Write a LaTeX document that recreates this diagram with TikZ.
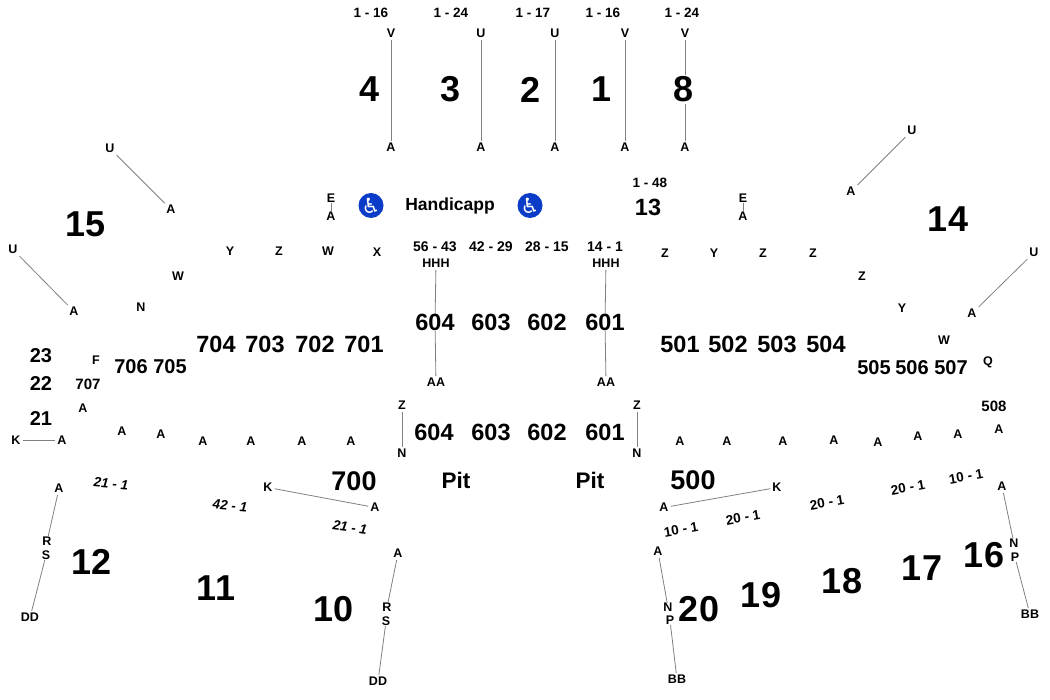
\documentclass[tikz,border=0pt]{standalone}
\usepackage{fontspec}
\setmainfont{Liberation Sans}
\newfontfamily\iconfont{DejaVu Sans}
\tikzset{
	bigsec/.style={font=\fontsize{36}{36}\selectfont\bfseries, inner sep=0pt},
	midsec/.style={font=\fontsize{23.5}{24}\selectfont\bfseries, inner sep=0pt},
	lowsec/.style={font=\fontsize{20}{20}\selectfont\bfseries, inner sep=0pt},
	tinysec/.style={font=\fontsize{15}{15}\selectfont\bfseries, inner sep=0pt},
	pitsec/.style={font=\fontsize{22.5}{23}\selectfont\bfseries, inner sep=0pt},
	seatrow/.style={font=\fontsize{12.5}{13}\selectfont\bfseries, inner sep=2pt},
	seatnum/.style={font=\fontsize{13.5}{14}\selectfont\bfseries, inner sep=0pt},
	seatnumit/.style={font=\fontsize{13.5}{14}\selectfont\bfseries\itshape, inner sep=0pt},
	rowline/.style={draw=black!50, line width=0.8pt},
	wheel/.style={circle, fill=wheelblue, text=white, minimum size=25pt, inner sep=0pt, font=\iconfont\fontsize{21}{21}\selectfont}
}
\definecolor{wheelblue}{RGB}{10,60,200}
\begin{document}
\begin{tikzpicture}[x=1pt,y=-1pt]
	\useasboundingbox (-1,-0.5) rectangle (1049,699.5);

	% top block
	\node[seatnum] (ra) at (370,12) {1 - 16};
	\node[seatnum] (rb) at (450,12) {1 - 24};
	\node[seatnum] (rc) at (532,12) {1 - 17};
	\node[seatnum] (rd) at (602,12) {1 - 16};
	\node[seatnum] (re) at (681,12) {1 - 24};
	\node[seatrow] (ta) at (390,33) {V};
	\node[seatrow] (tb) at (480,33) {U};
	\node[seatrow] (tc) at (554,33) {U};
	\node[seatrow] (td) at (624,33) {V};
	\node[seatrow] (te) at (684,33) {V};
	\node[seatrow] (ba) at (390,147) {A};
	\node[seatrow] (bb) at (480,147) {A};
	\node[seatrow] (bc) at (554,147) {A};
	\node[seatrow] (bd) at (624,147) {A};
	\node[seatrow] (be) at (684,147) {A};
	\foreach \a/\b in {ta/ba,tb/bb,tc/bc,td/bd}
		\draw[rowline] (\a) -- (\b);
	\draw[rowline] (te) -- (be);
	\node[bigsec,fill=white,inner ysep=2pt] (s8) at (683,89) {8};
	\node[bigsec] (s4) at (369,89) {4};
	\node[bigsec] (s3) at (450,89) {3};
	\node[bigsec] (s2) at (530,89) {2};
	\node[bigsec] (s1) at (601,89) {1};

	% handicap row
	\node[seatrow,inner sep=0pt] (ea) at (330,198) {E};
	\node[seatrow,inner sep=0pt] (aa) at (330,216) {A};
	\draw[rowline] (ea) -- (aa);
	\node[seatrow,inner sep=0pt] (eb) at (742,198) {E};
	\node[seatrow,inner sep=0pt] (ab) at (742,216) {A};
	\draw[rowline] (eb) -- (ab);
	\node[wheel] (wa) at (370,205) {\char"267F};
	\node[wheel] (wb) at (529,205) {\char"267F};
	\node[font=\fontsize{17.5}{18}\selectfont\bfseries, inner sep=0pt] (hc) at (449,205) {Handicapp};
	\node[seatnum] (r13) at (649,182) {1 - 48};
	\node[midsec] (s13) at (647,207) {13};

	% center
	\node[seatnum,font=\fontsize{14}{14}\selectfont\bfseries] (ca) at (434,246) {56 - 43};
	\node[seatnum,font=\fontsize{14}{14}\selectfont\bfseries] (cb) at (490,246) {42 - 29};
	\node[seatnum,font=\fontsize{14}{14}\selectfont\bfseries] (cc) at (546,246) {28 - 15};
	\node[seatnum,font=\fontsize{14}{14}\selectfont\bfseries] (cd) at (604,246) {14 - 1};
	\node[seatrow] (ha) at (435,263) {HHH};
	\node[seatrow] (hb) at (605,263) {HHH};
	\node[seatrow] (da) at (435,382) {AA};
	\node[seatrow] (db) at (605,382) {AA};
	\node[midsec] (u604) at (434,322) {604};
	\node[midsec] (u603) at (490,322) {603};
	\node[midsec] (u602) at (546,322) {602};
	\node[midsec] (u601) at (604,322) {601};
	\draw[rowline] (ha) -- (u604);
	\draw[rowline] (u604) -- (da);
	\draw[rowline] (hb) -- (u601);
	\draw[rowline] (u601) -- (db);
	\node[midsec] (l604) at (433,432) {604};
	\node[midsec] (l603) at (490,432) {603};
	\node[midsec] (l602) at (546,432) {602};
	\node[midsec] (l601) at (604,432) {601};
	\node[seatrow] (za) at (401,405) {Z};
	\node[seatrow] (na) at (401,453) {N};
	\draw[rowline] (za) -- (na);
	\node[seatrow] (zb) at (636,405) {Z};
	\node[seatrow] (nb) at (636,453) {N};
	\draw[rowline] (zb) -- (nb);
	\node[pitsec] (pa) at (455,480) {Pit};
	\node[pitsec] (pb) at (589,480) {Pit};

	% left side
	\node[midsec] (s704) at (215,344) {704};
	\node[midsec] (s703) at (264,344) {703};
	\node[midsec] (s702) at (314,344) {702};
	\node[midsec] (s701) at (363,344) {701};
	\node[lowsec] (s706) at (130,366) {706};
	\node[lowsec] (s705) at (169,366) {705};
	\node[tinysec] (s707) at (87,384) {707};
	\node[lowsec] (s23) at (40,355) {23};
	\node[lowsec] (s22) at (40,383) {22};
	\node[lowsec] (s21) at (40,418) {21};
	\node[seatrow] (lf) at (95,360) {F};
	\node[seatrow] (lw) at (177,276) {W};
	\node[seatrow] (ln) at (140,307) {N};
	\node[seatrow] (ly) at (229,251) {Y};
	\node[seatrow] (lz) at (278,251) {Z};
	\node[seatrow] (lw2) at (327,251) {W};
	\node[seatrow] (lx) at (376,252) {X};
	\node[seatrow] (lua) at (109,148) {U};
	\node[seatrow] (laa) at (170,209) {A};
	\draw[rowline] (lua) -- (laa);
	\node[seatrow] (lub) at (12,249) {U};
	\node[seatrow] (lab) at (73,311) {A};
	\draw[rowline] (lub) -- (lab);
	\node[bigsec] (s15) at (85,224) {15};
	\foreach \i/\x/\y in {1/82/408,2/121/431,3/160/434,4/202/441,5/250/441,6/301/441,7/350/441}
		\node[seatrow] (lr\i) at (\x,\y) {A};
	\node[seatrow] (lk) at (15,440) {K};
	\node[seatrow] (lka) at (61,440) {A};
	\draw[rowline] (lk) -- (lka);
	\node[seatnumit,rotate=-5] (ni) at (110,483) {21 - 1};
	\node[seatnumit,rotate=-5] (nj) at (229,505) {42 - 1};
	\node[seatnumit,rotate=-8] (nk) at (349,527) {21 - 1};
	\node[midsec,font=\fontsize{27}{27}\selectfont\bfseries] (s700) at (353,481) {700};
	\node[seatrow] (mk) at (267,487) {K};
	\node[seatrow] (ma) at (374,507) {A};
	\draw[rowline] (mk) -- (ma);
	\node[seatrow] (sa) at (58,488) {A};
	\node[seatrow,inner sep=0pt] (sr) at (46,541) {R};
	\node[seatrow,inner sep=0pt] (ss) at (45,555) {S};
	\node[seatrow] (sd) at (29,617) {DD};
	\draw[rowline] (sa) -- (sr);
	\draw[rowline] (ss) -- (sd);
	\node[seatrow] (ta2) at (397,553) {A};
	\node[seatrow,inner sep=0pt] (tr) at (386,607) {R};
	\node[seatrow,inner sep=0pt] (ts) at (385,621) {S};
	\node[seatrow] (td2) at (377,681) {DD};
	\draw[rowline] (ta2) -- (tr);
	\draw[rowline] (ts) -- (td2);
	\node[bigsec] (s12) at (91,561) {12};
	\node[bigsec] (s11) at (215,588) {11};
	\node[bigsec] (s10) at (333,609) {10};

	% right side
	\node[midsec] (s501) at (679,344) {501};
	\node[midsec] (s502) at (727,344) {502};
	\node[midsec] (s503) at (776,344) {503};
	\node[midsec] (s504) at (825,344) {504};
	\node[lowsec] (s505) at (873,367) {505};
	\node[lowsec] (s506) at (911,367) {506};
	\node[lowsec] (s507) at (950,367) {507};
	\node[tinysec] (s508) at (993,406) {508};
	\node[seatrow] (rq) at (987,362) {Q};
	\node[seatrow] (rw) at (943,340) {W};
	\node[seatrow] (ry) at (901,308) {Y};
	\node[seatrow] (rz) at (861,276) {Z};
	\node[seatrow] (rza) at (664,253) {Z};
	\node[seatrow] (ryb) at (713,253) {Y};
	\node[seatrow] (rzc) at (762,253) {Z};
	\node[seatrow] (rzd) at (812,253) {Z};
	\node[seatrow] (rua) at (911,130) {U};
	\node[seatrow] (raa) at (850,191) {A};
	\draw[rowline] (rua) -- (raa);
	\node[seatrow] (rub) at (1033,252) {U};
	\node[seatrow] (rab) at (971,313) {A};
	\draw[rowline] (rub) -- (rab);
	\node[bigsec] (s14) at (947,219) {14};
	\foreach \i/\x/\y in {1/998/429,2/957/434,3/917/436,4/877/442,5/833/440,6/782/441,7/726/441,8/679/441}
		\node[seatrow] (rr\i) at (\x,\y) {A};
	\node[midsec,font=\fontsize{27}{27}\selectfont\bfseries] (s500) at (692,480) {500};
	\node[seatrow] (va) at (663,507) {A};
	\node[seatrow] (vk) at (776,487) {K};
	\draw[rowline] (va) -- (vk);
	\node[seatnum,rotate=10] (na1) at (680,529) {10 - 1};
	\node[seatnum,rotate=10] (na2) at (742,517) {20 - 1};
	\node[seatnum,rotate=10] (na3) at (826,502) {20 - 1};
	\node[seatnum,rotate=10] (na4) at (907,487) {20 - 1};
	\node[seatnum,rotate=10] (na5) at (965,476) {10 - 1};
	\node[seatrow] (xa) at (1001,486) {A};
	\node[seatrow,inner sep=0pt] (xn) at (1013,543) {N};
	\node[seatrow,inner sep=0pt] (xp) at (1014,557) {P};
	\node[seatrow] (xb) at (1029,614) {BB};
	\draw[rowline] (xa) -- (xn);
	\draw[rowline] (xp) -- (xb);
	\node[seatrow] (ya) at (657,551) {A};
	\node[seatrow,inner sep=0pt] (yn) at (667,607) {N};
	\node[seatrow,inner sep=0pt] (yp) at (669,620) {P};
	\node[seatrow] (yb) at (676,679) {BB};
	\draw[rowline] (ya) -- (yn);
	\draw[rowline] (yp) -- (yb);
	\node[bigsec] (s20) at (698,609) {20};
	\node[bigsec] (s19) at (760,595) {19};
	\node[bigsec] (s18) at (841,581) {18};
	\node[bigsec] (s17) at (921,568) {17};
	\node[bigsec] (s16) at (983,555) {16};
\end{tikzpicture}
\end{document}
